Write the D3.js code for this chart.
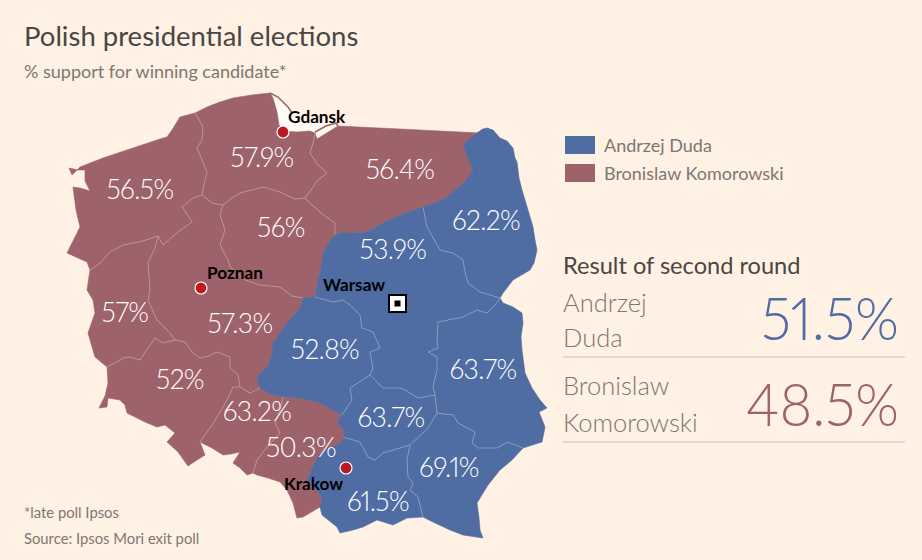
<!DOCTYPE html>
<html>
<head>
<meta charset="utf-8">
<script src="https://d3js.org/d3.v7.min.js"></script>
<style>
    html, body { margin: 0; padding: 0; background: #fff1e3; }
    svg { display: block; }
    text { font-family: Lato, "Open Sans", sans-serif; font-variant-numeric: proportional-nums; }
</style>
</head>
<body>
<svg id="chart" width="922" height="560"></svg>
<script>
// Election data
const regionNames = ['West Pomerania', 'Pomerania', 'Warmia-Masuria', 'Kuyavia-Pomerania', 'Lubusz', 'Greater Poland', 'Lower Silesia', 'Opole', 'Silesia', 'Podlaskie', 'Masovia', 'Lodz', 'Lublin', 'Swietokrzyskie', 'Subcarpathia', 'Lesser Poland'];
const regionValues = [56.5, 57.9, 56.4, 56, 57, 57.3, 52, 63.2, 50.3, 62.2, 53.9, 52.8, 63.7, 63.7, 69.1, 61.5];
const regionWinners = ['K', 'K', 'K', 'K', 'K', 'K', 'K', 'K', 'K', 'D', 'D', 'D', 'D', 'D', 'D', 'D'];
const candidateKeys = ['D', 'K'];
const candidateNames = ['Andrzej Duda', 'Bronislaw Komorowski'];
const candidateResults = [51.5, 48.5];
const cityNames = ['Gdansk', 'Poznan', 'Warsaw', 'Krakow'];

const arcs = {
    coastWest: [[90,270],[87,262],[67,253],[72,243],[80,227],[76,210],[73,187],[80,188],[90,191],[85,181],[85,170],[78,170],[69,168],[72,175],[80,167],[103,158],[127,150],[145,144],[160,139],[167,137],[172,130],[175,125],[180,117],[195,113]],
    coastPom: [[195,113],[207,107],[220,102],[233,98],[252,95],[270,93],[273,98],[277,112],[279,125],[283,131],[297,132],[310,131],[315,133]],
    northWarm: [[315,133],[317,139],[338,126],[400,129],[480,133],[483,129]],
    eastPod: [[483,129],[487,128],[493,130],[500,138],[507,141],[513,148],[515,158],[517,162],[519,178],[522,190],[528,210],[533,227],[535,240],[537,250],[534,263],[530,270],[513,280],[503,293],[500,298]],
    eastLub: [[500,298],[503,303],[513,307],[522,313],[523,323],[521,337],[522,350],[525,373],[532,388],[540,400],[547,408],[539,412],[545,427],[542,442],[523,448]],
    southPodk: [[523,448],[512,460],[500,470],[488,485],[477,503],[479,518],[480,530],[483,538],[463,535],[450,530],[433,522],[423,517]],
    southMalop: [[423,517],[407,518],[393,525],[377,520],[363,527],[353,530],[340,533],[337,527],[322,515],[320,507]],
    southSlask: [[320,507],[303,517],[297,518],[293,503],[287,490],[280,482],[268,478],[257,475],[253,473]],
    southOpole: [[253,473],[247,475],[240,468],[233,463],[240,452],[231,454],[223,455],[212,448],[200,442]],
    southDol: [[200,442],[205,455],[197,460],[188,466],[178,452],[167,442],[175,433],[165,425],[157,427],[145,422],[127,413],[125,405],[120,400],[108,398],[107,407],[99,408],[105,396],[108,383],[107,367]],
    westLub: [[107,367],[95,357],[88,333],[95,313],[93,300],[87,290],[90,270]],
    wpPom: [[195,113],[203,127],[202,140],[197,148],[203,162],[207,173],[204,184],[202,195]],
    wpWiel: [[202,195],[193,198],[182,207],[187,214],[192,222],[178,232],[163,245],[158,236]],
    wpLub: [[158,236],[143,241],[123,245],[110,252],[100,263],[90,270]],
    lubWiel: [[158,236],[155,248],[148,263],[150,290],[148,300],[157,320],[170,333],[175,340]],
    lubDol: [[175,340],[163,343],[155,338],[148,348],[140,360],[130,357],[123,358],[117,362],[107,367]],
    wielPom: [[202,195],[212,203],[223,205]],
    wielKuj: [[223,205],[220,215],[225,230],[220,245],[228,260],[230,267],[245,280],[260,285],[280,287],[292,296],[303,298]],
    pomKuj: [[223,205],[232,198],[240,193],[263,187],[280,192],[295,199],[305,198]],
    pomWarm: [[315,133],[313,143],[310,153],[318,165],[327,173],[318,180],[311,190],[305,198]],
    kujWarm: [[305,198],[312,205],[325,216],[335,223],[335,235]],
    warmPod: [[483,129],[470,138],[463,145],[468,158],[473,170],[465,182],[455,190],[443,200],[423,207]],
    warmMaz: [[423,207],[400,215],[385,222],[367,232],[350,233],[343,232],[335,235]],
    kujMaz: [[335,235],[328,244],[323,253],[321,268],[318,280],[315,297]],
    kujLodz: [[315,297],[303,298]],
    wielLodz: [[303,298],[300,308],[287,323],[273,343],[271,358],[268,366],[257,377],[260,388]],
    wielOpole: [[240,387],[250,393],[260,388]],
    wielDol: [[175,340],[185,342],[192,352],[200,358],[209,356],[217,352],[230,357],[230,368],[238,375],[240,387]],
    dolOpole: [[240,387],[233,387],[228,398],[223,407],[212,425],[200,442]],
    opoleLodz: [[260,388],[270,394],[283,397]],
    opoleSlask: [[283,397],[280,410],[275,423],[280,433],[267,447],[257,460],[253,473]],
    slaskLodz: [[283,397],[300,398],[320,403],[342,415]],
    slaskSwiet: [[342,415],[337,422],[345,432],[343,437]],
    slaskMalop: [[343,437],[343,442],[330,448],[320,453],[312,468],[307,480],[322,497],[320,507]],
    podMaz: [[423,207],[427,227],[440,250],[453,253],[463,260],[465,272],[468,283],[480,292],[500,298]],
    mazLub: [[500,298],[497,303],[487,313],[477,310],[463,317],[438,322],[437,340],[438,348],[428,352],[437,357],[437,370],[433,387],[435,395]],
    lodzMaz: [[315,297],[333,302],[343,300],[350,305],[360,315],[362,328],[373,332],[380,348],[370,352],[373,368],[370,375]],
    lodzSwiet: [[370,375],[350,388],[352,400],[342,415]],
    swietMaz: [[370,375],[383,388],[400,388],[405,390],[418,398],[435,395]],
    swietLub: [[435,395],[437,413]],
    swietPodk: [[437,413],[428,428],[410,445]],
    swietMalop: [[410,445],[383,453],[375,460],[368,457],[360,442],[343,437]],
    lubPodk: [[437,413],[453,415],[458,423],[475,432],[472,443],[478,448],[497,448],[508,442],[523,448]],
    malopPodk: [[410,445],[407,460],[408,477],[413,483],[410,490],[418,497],[423,517]]
};

// Each region is a ring of arcs, a leading minus walks the arc backwards
const regionRings = [
    ['coastWest', 'wpPom', 'wpWiel', 'wpLub'],
    ['coastPom', 'pomWarm', '-pomKuj', '-wielPom', '-wpPom'],
    ['northWarm', 'warmPod', 'warmMaz', '-kujWarm', '-pomWarm'],
    ['pomKuj', 'kujWarm', 'kujMaz', 'kujLodz', '-wielKuj'],
    ['-wpLub', 'lubWiel', 'lubDol', 'westLub'],
    ['-wpWiel', 'wielPom', 'wielKuj', 'wielLodz', '-wielOpole', '-wielDol', '-lubWiel'],
    ['-lubDol', 'wielDol', 'dolOpole', 'southDol'],
    ['wielOpole', 'opoleLodz', 'opoleSlask', 'southOpole', '-dolOpole'],
    ['slaskLodz', 'slaskSwiet', 'slaskMalop', 'southSlask', '-opoleSlask'],
    ['eastPod', '-podMaz', '-warmPod'],
    ['-warmMaz', 'podMaz', 'mazLub', '-swietMaz', '-lodzMaz', '-kujMaz'],
    ['-kujLodz', 'lodzMaz', 'lodzSwiet', '-slaskLodz', '-opoleLodz', '-wielLodz'],
    ['eastLub', '-lubPodk', '-swietLub', '-mazLub'],
    ['swietMaz', 'swietLub', 'swietPodk', 'swietMalop', '-slaskSwiet', '-lodzSwiet'],
    ['lubPodk', 'southPodk', '-malopPodk', '-swietPodk'],
    ['-swietMalop', 'malopPodk', 'southMalop', '-slaskMalop']
];

// Gdansk bay, paler than the page, and the thin sand spits round it
const bayRing = [[272,95],[288,107],[296,118],[332,122],[338,126],[317,139],[314,134],[297,132],[283,131],[279,125],[277,112],[272,95]];
const spits = [
    [[270,93],[278,97],[288,107],[292,113]],
    [[315,132],[326,126],[336,123],[338,126]]
];

const outerArcs = ['coastWest', 'coastPom', 'northWarm', 'eastPod', 'eastLub', 'southPodk', 'southMalop', 'southSlask', 'southOpole', 'southDol', 'westLub'];
const partyBorders = ['warmPod', 'warmMaz', 'kujMaz', 'kujLodz', 'wielLodz', 'opoleLodz', 'slaskLodz', 'slaskSwiet', 'slaskMalop'];

// Where the labels sit on the map
const regionAnchors = [[140,190],[262,158],[400,170],[281,228],[125,313],[240,324],[180,380],[257,412],[301,448],[486,221],[393,250],[325,350],[483,370],[391,418],[449,468],[378,502]];
const cityAnchors = [[283,132],[201,288],[397,303],[346,468]];
const cityLabelAnchors = [[288,123],[207,279],[323,291],[284,490]];

const colors = { D: '#4f6ca3', K: '#9d626a' };
const svg = d3.select('#chart');

// Map geometry goes through an identity projection
const path = d3.geoPath(d3.geoIdentity());

function ringCoords(ring) {
    const coords = [];
    ring.forEach(ref => {
        const reversed = ref[0] === '-';
        const pts = arcs[reversed ? ref.slice(1) : ref];
        coords.push(...(reversed ? pts.slice().reverse() : pts));
    });
    return coords;
}

// Bay sits under the regions
svg.append('path')
    .attr('d', path({ type: 'Polygon', coordinates: [bayRing] }))
    .attr('fill', '#fffaf4');

// Regions
svg.append('g')
    .selectAll('path')
    .data(regionNames)
    .enter()
    .append('path')
    .attr('d', (d, i) => path({ type: 'Polygon', coordinates: [ringCoords(regionRings[i])] }))
    .attr('fill', (d, i) => colors[regionWinners[i]])
    .attr('stroke', (d, i) => colors[regionWinners[i]])
    .attr('stroke-width', 0.6)
    .attr('stroke-linejoin', 'round');

// Inner borders, pale and thin
const innerArcs = Object.keys(arcs).filter(k => !outerArcs.includes(k) && !partyBorders.includes(k));
svg.append('g')
    .selectAll('path')
    .data(innerArcs)
    .enter()
    .append('path')
    .attr('d', d => path({ type: 'LineString', coordinates: arcs[d] }))
    .attr('fill', 'none')
    .attr('stroke', 'rgba(255,241,227,0.32)')
    .attr('stroke-width', 1);

// Spits
svg.append('g')
    .selectAll('path')
    .data(spits)
    .enter()
    .append('path')
    .attr('d', d => path({ type: 'LineString', coordinates: d }))
    .attr('fill', 'none')
    .attr('stroke', colors.K)
    .attr('stroke-width', 1.5);

// Region value labels
svg.append('g')
    .selectAll('text')
    .data(regionValues)
    .enter()
    .append('text')
    .attr('x', (d, i) => regionAnchors[i][0])
    .attr('y', (d, i) => regionAnchors[i][1] + 9)
    .attr('text-anchor', 'middle')
    .attr('fill', '#fff')
    .attr('font-size', 26.5)
    .attr('font-weight', 300)
    .attr('letter-spacing', -0.6)
    .text(d => d + '%');

// City markers
cityNames.forEach((name, i) => {
    const [cx, cy] = cityAnchors[i];
    if (name === 'Warsaw') {
        svg.append('rect').attr('x', cx - 8).attr('y', cy - 8).attr('width', 17).attr('height', 17)
            .attr('fill', '#fff').attr('stroke', '#000').attr('stroke-width', 2);
        svg.append('rect').attr('x', cx - 2.5).attr('y', cy - 2.5).attr('width', 6).attr('height', 6).attr('fill', '#000');
    } else {
        svg.append('circle').attr('cx', cx).attr('cy', cy).attr('r', 6)
            .attr('fill', '#bb1a1f').attr('stroke', '#fff').attr('stroke-width', 1.2);
    }
    svg.append('text')
        .attr('x', cityLabelAnchors[i][0])
        .attr('y', cityLabelAnchors[i][1])
        .attr('font-size', 17.2)
        .attr('font-weight', 700)
        .attr('fill', '#000')
        .text(name);
});

// Title block
svg.append('text').attr('x', 24).attr('y', 46).attr('font-size', 27.5).attr('fill', '#4a4644').text('Polish presidential elections');
svg.append('text').attr('x', 24).attr('y', 78).attr('font-size', 18).attr('fill', '#7d7772').text('% support for winning candidate*');

// Footnotes
svg.append('text').attr('x', 24).attr('y', 518).attr('font-size', 14.8).attr('fill', '#7d7772').text('*late poll Ipsos');
svg.append('text').attr('x', 24).attr('y', 544).attr('font-size', 14.8).attr('fill', '#7d7772').text('Source: Ipsos Mori exit poll');

// Legend
const legendY = d3.scalePoint().domain(candidateKeys).range([136, 164]);
const legend = svg.append('g').selectAll('g').data(candidateKeys).enter().append('g')
    .attr('transform', d => `translate(565,${legendY(d)})`);
legend.append('rect').attr('width', 30).attr('height', 18).attr('fill', d => colors[d]);
legend.append('text').attr('x', 39).attr('y', 16).attr('font-size', 18).attr('fill', '#7d7772')
    .text((d, i) => candidateNames[i]);

// Result panel
svg.append('text').attr('x', 563).attr('y', 274).attr('font-size', 23.6).attr('fill', '#4a4644').text('Result of second round');

const nameBaselines = [[312, 347], [395, 432]];
const valueBaselines = [340, 426];
const valueWidths = [138, 153];
const ruleY = [357, 442];
candidateKeys.forEach((key, i) => {
    candidateNames[i].split(' ').forEach((word, j) => {
        svg.append('text').attr('x', 563).attr('y', nameBaselines[i][j])
            .attr('font-size', 25.5).attr('font-weight', 300).attr('fill', '#7d7772').text(word);
    });
    svg.append('text').attr('x', 899).attr('y', valueBaselines[i])
        .attr('text-anchor', 'end').attr('font-size', 60).attr('font-weight', 300)
        .attr('textLength', valueWidths[i]).attr('lengthAdjust', 'spacingAndGlyphs')
        .attr('fill', colors[key]).text(candidateResults[i] + '%');
    svg.append('line').attr('x1', 563).attr('x2', 905).attr('y1', ruleY[i]).attr('y2', ruleY[i])
        .attr('stroke', '#d9cfc4').attr('stroke-width', 1.5);
});
</script>
</body>
</html>
